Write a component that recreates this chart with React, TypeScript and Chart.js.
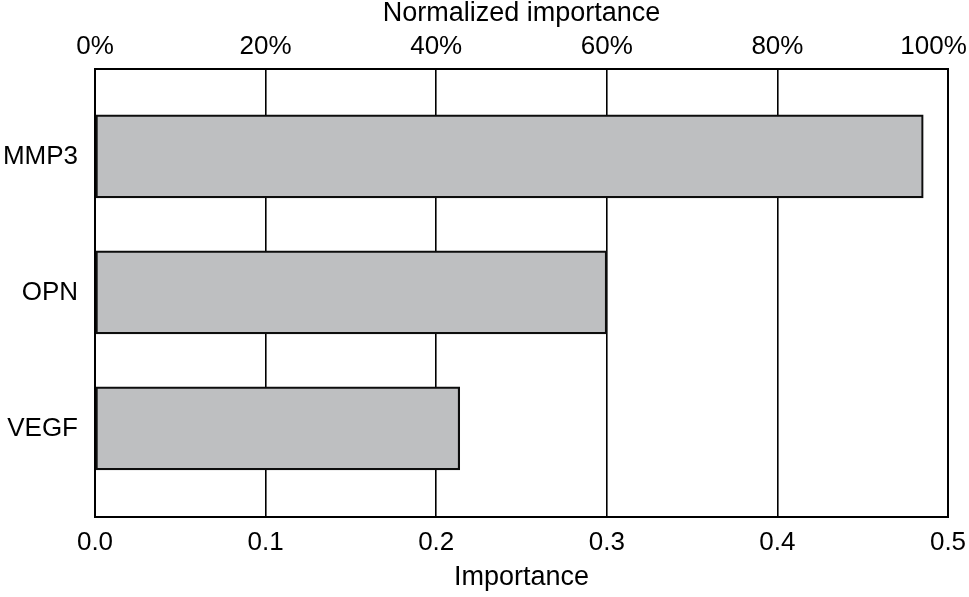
import React, { useEffect, useRef } from "react";
import { Chart, registerables } from "chart.js";

Chart.register(...registerables);

const categories = ["MMP3", "OPN", "VEGF"];
const importance = [0.4855, 0.3, 0.2138];
const bottomTicks = [0, 0.1, 0.2, 0.3, 0.4, 0.5];
const topTicks = [0, 20, 40, 60, 80, 100];

const FONT = "'Liberation Sans', Arial, Helvetica, sans-serif";

const framePlugin = {
  id: "frame",
  afterDatasetsDraw(chart: any) {
    const { ctx, chartArea } = chart;
    ctx.save();
    ctx.strokeStyle = "#000";
    ctx.lineWidth = 2;
    ctx.strokeRect(chartArea.left, chartArea.top, chartArea.right - chartArea.left, chartArea.bottom - chartArea.top);
    ctx.restore();
  },
};

const noSidePadding = (s: any) => {
  s.paddingLeft = 0;
  s.paddingRight = 0;
};

export default function App() {
  const ref = useRef<HTMLCanvasElement | null>(null);

  useEffect(() => {
    if (!ref.current) return;
    const chart = new Chart(ref.current, {
      type: "bar",
      data: {
        datasets: [
          {
            label: "Importance",
            data: categories.map((c, i) => ({ x: importance[i], y: i })) as any,
            backgroundColor: "#bebfc1",
            borderColor: "#0d0d0d",
            borderWidth: 2.2,
            borderSkipped: false,
            barThickness: 83,
            xAxisID: "x",
            yAxisID: "y",
          },
        ],
      },
      plugins: [framePlugin],
      options: {
        animation: false,
        responsive: true,
        maintainAspectRatio: false,
        indexAxis: "y",
        layout: { padding: { left: 0, right: 21, top: 0, bottom: 0 } },
        plugins: {
          legend: { display: false },
          tooltip: { enabled: false },
        },
        scales: {
          x: {
            type: "linear",
            position: "bottom",
            min: 0,
            max: 0.5,
            afterBuildTicks: (s: any) => {
              s.ticks = bottomTicks.map((v) => ({ value: v }));
            },
            afterFit: (s: any) => {
              s.height = 80;
              noSidePadding(s);
            },
            ticks: {
              color: "#000",
              font: { family: FONT, size: 26, lineHeight: 1.2 },
              padding: 10,
              maxRotation: 0,
              callback: (v: any) => Number(v).toFixed(1),
            },
            grid: {
              color: "#000",
              lineWidth: 1.6,
              drawTicks: false,
            },
            border: { color: "#000", width: 2 },
            title: {
              display: true,
              text: "Importance",
              color: "#000",
              font: { family: FONT, size: 27, lineHeight: 1 },
              padding: { top: 0, bottom: 6 },
            },
          },
          x2: {
            type: "linear",
            position: "top",
            min: 0,
            max: 100,
            afterBuildTicks: (s: any) => {
              s.ticks = topTicks.map((v) => ({ value: v }));
            },
            afterFit: (s: any) => {
              s.height = 69;
              noSidePadding(s);
            },
            ticks: {
              color: "#000",
              font: { family: FONT, size: 26, lineHeight: 1.2 },
              padding: 7,
              maxRotation: 0,
              // the last label is nudged left (trailing spaces) so it stays inside the canvas, as in the reference
              callback: (v: any) => (Number(v) === 100 ? `${v}%\u00a0\u00a0\u00a0\u00a0` : `${v}%`),
            },
            grid: { display: false, drawTicks: false },
            border: { color: "#000", width: 2 },
            title: {
              display: true,
              text: "Normalized importance",
              color: "#000",
              font: { family: FONT, size: 27, lineHeight: 1 },
              padding: { top: 0, bottom: 0 },
            },
          },
          y: {
            type: "linear",
            position: "left",
            reverse: true,
            offset: false,
            min: -0.643,
            max: 2.652,
            afterBuildTicks: (s: any) => {
              s.ticks = categories.map((_, i) => ({ value: i }));
            },
            afterFit: (s: any) => {
              s.width = 95;
            },
            ticks: {
              color: "#000",
              font: { family: FONT, size: 26 },
              padding: 17,
              callback: (v: any) => categories[Number(v)] ?? "",
            },
            grid: { display: false, drawTicks: false, offset: false },
            border: { color: "#000", width: 2 },
          },
        },
      } as any,
    });
    return () => chart.destroy();
  }, []);

  return (
    <div style={{ position: "fixed", left: 0, top: 0, width: 969, height: 597, background: "#fff" }}>
      <canvas ref={ref} />
    </div>
  );
}
